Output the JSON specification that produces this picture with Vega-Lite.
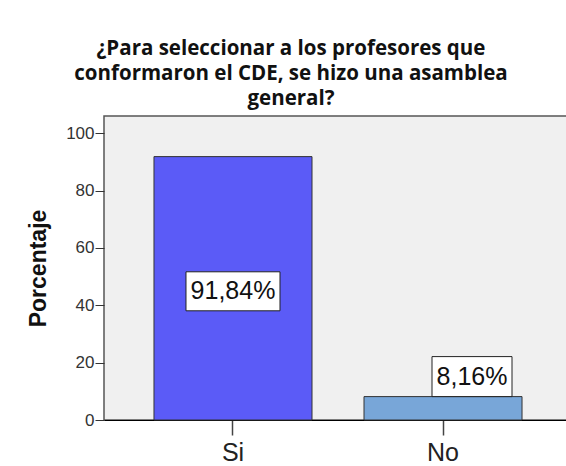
{
  "$schema": "https://vega.github.io/schema/vega-lite/v6.json",
  "autosize": {"type": "none"},
  "padding": {"left": 104, "top": 116, "right": 0, "bottom": 46},
  "width": 466,
  "height": 304,
  "background": "white",
  "title": {
    "text": ["¿Para seleccionar a los profesores que", "conformaron el CDE, se hizo una asamblea", "general?"],
    "font": "Open Sans",
    "fontSize": 20.5,
    "fontWeight": "bold",
    "color": "#111",
    "lineHeight": 25,
    "anchor": "middle",
    "frame": "group",
    "dx": -46,
    "offset": 7
  },
  "data": {
    "values": [
      {"cat": "Si", "value": 91.84, "label": "91,84%"},
      {"cat": "No", "value": 8.16, "label": "8,16%"}
    ]
  },
  "transform": [{"calculate": "datum.value / 2", "as": "mid"}],
  "encoding": {
    "x": {
      "field": "cat",
      "type": "nominal",
      "sort": ["Si", "No"],
      "scale": {"range": [0, 468], "paddingInner": 0.2476, "paddingOuter": 0.238},
      "axis": {
        "title": null,
        "labelAngle": 0,
        "labelFont": "Liberation Sans",
        "labelFontSize": 25,
        "labelColor": "#222",
        "labelPadding": 5,
        "tickSize": 15,
        "tickColor": "#444",
        "tickWidth": 1.5,
        "domainColor": "#000",
        "domainWidth": 1.2
      }
    }
  },
  "layer": [
    {
      "mark": {"type": "bar", "stroke": "#333", "strokeWidth": 1},
      "encoding": {
        "y": {
          "field": "value",
          "type": "quantitative",
          "scale": {"domain": [0, 106], "nice": false},
          "axis": {
            "title": "Porcentaje",
            "titleFont": "Liberation Sans",
            "titleFontSize": 23,
            "titleFontWeight": "bold",
            "titleColor": "#111",
            "titleX": -66,
            "titleY": 152,
            "titleBaseline": "middle",
            "values": [0, 20, 40, 60, 80, 100],
            "grid": false,
            "domain": false,
            "tickSize": 9,
            "tickColor": "#333",
            "labelFont": "Liberation Sans",
            "labelFontSize": 17,
            "labelColor": "#333",
            "labelPadding": 1
          }
        },
        "color": {
          "field": "cat",
          "type": "nominal",
          "scale": {"domain": ["Si", "No"], "range": ["#5b5bf7", "#78a6d8"]},
          "legend": null
        }
      }
    },
    {
      "transform": [{"filter": "datum.cat === 'Si'"}],
      "mark": {"type": "rect", "width": 94, "height": 39, "fill": "white", "stroke": "#222", "strokeWidth": 1, "yOffset": 3},
      "encoding": {"y": {"field": "mid", "type": "quantitative"}}
    },
    {
      "transform": [{"filter": "datum.cat === 'Si'"}],
      "mark": {"type": "text", "font": "Liberation Sans", "fontSize": 25, "color": "#111", "baseline": "middle", "align": "center", "yOffset": 3},
      "encoding": {"y": {"field": "mid", "type": "quantitative"}, "text": {"field": "label"}}
    },
    {
      "transform": [{"filter": "datum.cat === 'No'"}],
      "mark": {"type": "rect", "width": 80, "height": 40, "fill": "white", "stroke": "#222", "strokeWidth": 1, "yOffset": -20, "xOffset": 29},
      "encoding": {"y": {"field": "value", "type": "quantitative"}}
    },
    {
      "transform": [{"filter": "datum.cat === 'No'"}],
      "mark": {"type": "text", "font": "Liberation Sans", "fontSize": 25, "color": "#111", "baseline": "middle", "align": "center", "yOffset": -20, "xOffset": 29},
      "encoding": {"y": {"field": "value", "type": "quantitative"}, "text": {"field": "label"}}
    }
  ],
  "config": {
    "view": {"fill": "#f0f0f0", "stroke": "#555", "strokeWidth": 1.5}
  }
}
